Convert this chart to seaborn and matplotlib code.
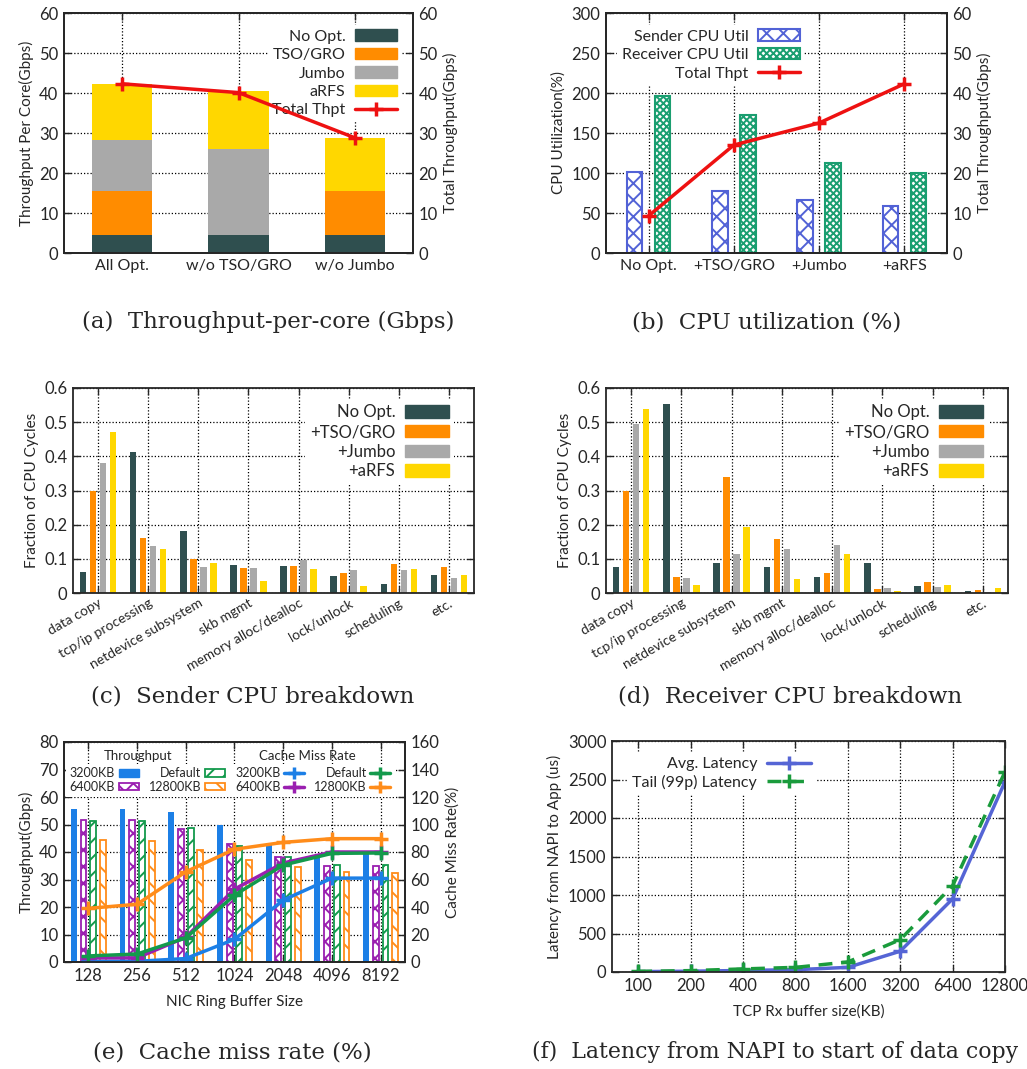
import numpy as np
import pandas as pd
import matplotlib
matplotlib.use("Agg")
import matplotlib.pyplot as plt
import seaborn as sns
from matplotlib.patches import Patch
from matplotlib.lines import Line2D

# ---------------- data ----------------
a_cats = ["All Opt.", "w/o TSO/GRO", "w/o Jumbo"]
a_no_opt = [4.5, 4.5, 4.5]
a_tso_gro = [11.0, 0.0, 11.0]
a_jumbo = [12.8, 21.5, 0.0]
a_arfs = [14.0, 14.6, 13.3]
a_total = [42.3, 40.1, 28.8]

b_cats = ["No Opt.", "+TSO/GRO", "+Jumbo", "+aRFS"]
b_sender = [101, 78, 66, 59]
b_receiver = [196, 173, 113, 100]
b_total = [9.3, 27.0, 32.5, 42.3]

cpu_cats = ["data copy", "tcp/ip processing", "netdevice subsystem", "skb mgmt",
            "memory alloc/dealloc", "lock/unlock", "scheduling", "etc."]
opt_levels = ["No Opt.", "+TSO/GRO", "+Jumbo", "+aRFS"]
c_no_opt = [0.062, 0.412, 0.182, 0.083, 0.080, 0.050, 0.027, 0.052]
c_tso_gro = [0.300, 0.162, 0.100, 0.073, 0.078, 0.060, 0.086, 0.075]
c_jumbo = [0.380, 0.137, 0.077, 0.072, 0.098, 0.068, 0.068, 0.043]
c_arfs = [0.470, 0.130, 0.088, 0.035, 0.070, 0.020, 0.070, 0.053]
d_no_opt = [0.077, 0.553, 0.087, 0.077, 0.048, 0.089, 0.020, 0.006]
d_tso_gro = [0.300, 0.048, 0.340, 0.158, 0.058, 0.013, 0.032, 0.009]
d_jumbo = [0.495, 0.045, 0.115, 0.128, 0.140, 0.016, 0.017, 0.003]
d_arfs = [0.540, 0.022, 0.193, 0.040, 0.114, 0.006, 0.022, 0.015]

e_cats = ["128", "256", "512", "1024", "2048", "4096", "8192"]
e_series = ["3200KB", "6400KB", "Default", "12800KB"]
e_thpt_3200 = [55.5, 55.5, 54.5, 50.0, 42.5, 38.5, 39.5]
e_thpt_6400 = [51.7, 51.7, 48.2, 42.8, 38.2, 35.0, 35.0]
e_thpt_default = [51.2, 51.2, 48.8, 42.3, 38.3, 35.3, 35.3]
e_thpt_12800 = [44.3, 44.1, 40.9, 37.1, 34.6, 32.6, 32.3]
e_miss_3200 = [0.5, 0.5, 2.5, 16.5, 45.0, 61.0, 61.0]
e_miss_6400 = [3.0, 3.0, 18.0, 53.0, 72.0, 80.0, 80.0]
e_miss_default = [4.4, 5.8, 17.5, 48.6, 70.5, 79.0, 79.3]
e_miss_12800 = [39.0, 42.0, 65.6, 82.0, 87.0, 89.7, 89.7]

f_cats = ["100", "200", "400", "800", "1600", "3200", "6400", "12800"]
f_avg = [5, 10, 20, 30, 60, 270, 950, 2470]
f_tail = [8, 18, 40, 60, 130, 420, 1120, 2600]

# ---------------- style ----------------
sns.set_style("ticks")
plt.rcParams["font.family"] = ["Lato", "DejaVu Sans"]
plt.rcParams["hatch.linewidth"] = 1.4
plt.rcParams["axes.linewidth"] = 1.3

C_NO = "#2f4f4f"
C_TSO = "#ff8c00"
C_JUM = "#a9a9a9"
C_ARFS = "#ffd700"
C_RED = "#ee1111"
C_SND = "#5262d6"
C_RCV = "#1a9e70"
E_BLUE = "#1c7fe6"
E_PURP = "#9a1fb0"
E_GREEN = "#139a4c"
E_ORNG = "#ff8c1a"
F_BLUE = "#5565d5"
F_GREEN = "#1a9b3c"

W, H = 1027, 1069
fig = plt.figure(figsize=(W / 100, H / 100), dpi=100)


def add_ax(l, r, t, b):
    return fig.add_axes([l / W, 1 - b / H, (r - l) / W, (b - t) / H])


def style(ax, right=True, top=True, labelsize=12):
    ax.tick_params(direction="in", length=5, width=1, top=top, right=right,
                   labelsize=labelsize, pad=4)
    ax.grid(True, linestyle=(0, (1, 1.6)), color="black", linewidth=0.9)
    ax.set_axisbelow(True)
    for s in ax.spines.values():
        s.set_visible(True)
        s.set_linewidth(1.3)


def style_twin(ax2):
    ax2.tick_params(direction="in", length=5, width=1, labelsize=12, pad=4)
    for s in ax2.spines.values():
        s.set_visible(True)
        s.set_linewidth(1.3)


MS = 10


def line(ax, xs, ys, col, ms=MS, **kw):
    sns.lineplot(x=xs, y=ys, color=col, linewidth=2.5, marker="+", markersize=ms,
                 markeredgewidth=2.5, markeredgecolor=col, markerfacecolor=col, ax=ax, **kw)


LEG = dict(frameon=True, facecolor="white", edgecolor="none", framealpha=1,
           fancybox=False, markerfirst=False, borderpad=0.3)

# ---------------- (a) ----------------
ax = add_ax(64, 413, 13, 253)
cum = np.cumsum(np.array([a_no_opt, a_tso_gro, a_jumbo, a_arfs]), axis=0)
for layer, col in zip([3, 2, 1, 0], [C_ARFS, C_JUM, C_TSO, C_NO]):
    sns.barplot(x=a_cats, y=cum[layer], color=col, saturation=1, width=0.52,
                linewidth=0, errorbar=None, ax=ax)
ax.set_ylim(0, 60)
ax.set_yticks(range(0, 61, 10))
ax.set_ylabel("Throughput Per Core(Gbps)", fontsize=11)
style(ax, right=False)
ax2 = ax.twinx()
line(ax2, np.arange(len(a_cats)), a_total, C_RED)
ax2.set_ylim(0, 60)
ax2.set_yticks(range(0, 61, 10))
ax2.set_ylabel("Total Throughput(Gbps)", fontsize=11)
style_twin(ax2)
ax.set_xlim(-0.5, 2.5)
ax.tick_params(axis="x", labelsize=11.5)
ha = [Patch(color=C_NO), Patch(color=C_TSO), Patch(color=C_JUM), Patch(color=C_ARFS),
      Line2D([], [], color=C_RED, lw=2.5, marker="+", ms=MS, mew=2.5)]
ax.legend(ha, ["No Opt.", "TSO/GRO", "Jumbo", "aRFS", "Total Thpt"], loc="upper right",
          bbox_to_anchor=(0.99, 0.985), fontsize=11.5, handlelength=2.6,
          handleheight=0.75, labelspacing=0.25, handletextpad=0.6, **LEG).set_zorder(0.9)

# ---------------- (b) ----------------
ax = add_ax(606, 947, 13, 253)
dfb = pd.DataFrame({"cat": b_cats * 2,
                    "series": ["Sender CPU Util"] * 4 + ["Receiver CPU Util"] * 4,
                    "val": b_sender + b_receiver})
sns.barplot(data=dfb, x="cat", y="val", hue="series", palette=[C_SND, C_RCV],
            width=0.66, gap=0.45, saturation=1, errorbar=None, legend=False, ax=ax)
for cont, col, hat in zip(ax.containers, [C_SND, C_RCV], ["xx", "xxxxx"]):
    for bar in cont:
        bar.set_facecolor("white")
        bar.set_edgecolor(col)
        bar.set_hatch(hat)
        bar.set_linewidth(1.5)
ax.set_ylim(0, 300)
ax.set_yticks(range(0, 301, 50))
ax.set_ylabel("CPU Utilization(%)", fontsize=11)
ax.set_xlabel("")
style(ax, right=False)
ax2 = ax.twinx()
line(ax2, np.arange(len(b_cats)), b_total, C_RED)
ax2.set_ylim(0, 60)
ax2.set_yticks(range(0, 61, 10))
ax2.set_ylabel("Total Throughput(Gbps)", fontsize=11)
style_twin(ax2)
ax.set_xlim(-0.5, 3.5)
ax.tick_params(axis="x", labelsize=11.5)
hb = [Patch(facecolor="white", edgecolor=C_SND, hatch="xx", lw=1.5),
      Patch(facecolor="white", edgecolor=C_RCV, hatch="xxxxx", lw=1.5),
      Line2D([], [], color=C_RED, lw=2.5, marker="+", ms=MS, mew=2.5)]
ax.legend(hb, ["Sender CPU Util", "Receiver CPU Util", "Total Thpt"], loc="upper right",
          bbox_to_anchor=(0.605, 0.985), fontsize=11.5, handlelength=2.6,
          handleheight=0.75, labelspacing=0.25, handletextpad=0.6, **LEG).set_zorder(0.9)

# ---------------- (c) & (d) ----------------
def cpu_panel(l, r, vals):
    ax = add_ax(l, r, 388, 593)
    df = pd.DataFrame({"cat": cpu_cats * 4,
                       "opt": [o for o in opt_levels for _ in cpu_cats],
                       "val": sum(vals, [])})
    sns.barplot(data=df, x="cat", y="val", hue="opt", palette=[C_NO, C_TSO, C_JUM, C_ARFS],
                width=0.8, gap=0.35, saturation=1, linewidth=0, errorbar=None,
                legend=False, ax=ax)
    ax.set_ylim(0, 0.6)
    ax.set_yticks(np.arange(0, 0.61, 0.1))
    ax.set_yticklabels(["0", "0.1", "0.2", "0.3", "0.4", "0.5", "0.6"])
    ax.set_ylabel("Fraction of CPU Cycles", fontsize=11)
    ax.set_xlabel("")
    style(ax)
    ax.set_xlim(-0.5, 7.5)
    ax.tick_params(axis="x", labelsize=10, pad=3)
    for t in ax.get_xticklabels():
        t.set_rotation(30)
        t.set_ha("right")
        t.set_rotation_mode("anchor")
    hc = [Patch(color=c) for c in [C_NO, C_TSO, C_JUM, C_ARFS]]
    ax.legend(hc, opt_levels, loc="upper right", bbox_to_anchor=(0.97, 0.985),
              fontsize=12, handlelength=2.6, handleheight=0.75, labelspacing=0.22,
              handletextpad=0.6, **LEG).set_zorder(0.9)


cpu_panel(73, 474, [c_no_opt, c_tso_gro, c_jumbo, c_arfs])
cpu_panel(606, 1008, [d_no_opt, d_tso_gro, d_jumbo, d_arfs])

# ---------------- (e) ----------------
ax = add_ax(64, 405, 742, 962)
dfe = pd.DataFrame({"cat": e_cats * 4,
                    "series": [s for s in e_series for _ in e_cats],
                    "val": e_thpt_3200 + e_thpt_6400 + e_thpt_default + e_thpt_12800})
sns.barplot(data=dfe, x="cat", y="val", hue="series",
            palette=[E_BLUE, E_PURP, E_GREEN, E_ORNG], width=0.8, gap=0.4,
            saturation=1, linewidth=0, errorbar=None, legend=False, ax=ax)
for cont, col, hat in zip(ax.containers[1:], [E_PURP, E_GREEN, E_ORNG], ["xx", "//", "\\\\"]):
    for bar in cont:
        bar.set_facecolor("white")
        bar.set_edgecolor(col)
        bar.set_hatch(hat)
        bar.set_linewidth(1.3)
ax.set_ylim(0, 80)
ax.set_yticks(range(0, 81, 10))
ax.set_ylabel("Throughput(Gbps)", fontsize=11)
ax.set_xlabel("NIC Ring Buffer Size", fontsize=11, labelpad=8)
style(ax, right=False)
ax2 = ax.twinx()
xs = np.arange(len(e_cats))
for ys, col in zip([e_miss_3200, e_miss_6400, e_miss_default, e_miss_12800],
                   [E_BLUE, E_PURP, E_GREEN, E_ORNG]):
    line(ax2, xs, ys, col)
ax2.set_ylim(0, 160)
ax2.set_yticks(range(0, 161, 20))
ax2.set_ylabel("Cache Miss Rate(%)", fontsize=11)
style_twin(ax2)
ax.set_xlim(-0.5, 6.5)
ax.tick_params(axis="x", labelsize=12)
he = [Patch(color=E_BLUE),
      Patch(facecolor="white", edgecolor=E_PURP, hatch="xx", lw=1.3),
      Patch(facecolor="white", edgecolor=E_GREEN, hatch="//", lw=1.3),
      Patch(facecolor="white", edgecolor=E_ORNG, hatch="\\\\", lw=1.3),
      Line2D([], [], color=E_BLUE, lw=2.5, marker="+", ms=9, mew=2.5),
      Line2D([], [], color=E_PURP, lw=2.5, marker="+", ms=9, mew=2.5),
      Line2D([], [], color=E_GREEN, lw=2.5, marker="+", ms=9, mew=2.5),
      Line2D([], [], color=E_ORNG, lw=2.5, marker="+", ms=9, mew=2.5)]
ax.legend(he, ["3200KB", "6400KB", "Default", "12800KB",
               "3200KB", "6400KB", "Default", "12800KB"],
          ncol=4, loc="upper center", bbox_to_anchor=(0.487, 0.93), fontsize=9,
          handlelength=1.6, handleheight=0.6, labelspacing=0.12, handletextpad=0.3,
          columnspacing=0.8, **LEG).set_zorder(0.9)
ax.text(0.217, 0.936, "Throughput", transform=ax.transAxes, ha="center", va="center",
        fontsize=9.5, zorder=6)
ax.text(0.713, 0.936, "Cache Miss Rate", transform=ax.transAxes, ha="center", va="center",
        fontsize=9.5, zorder=6)

# ---------------- (f) ----------------
ax = add_ax(612, 1005, 741, 972)
xf = np.arange(len(f_cats))
line(ax, xf, f_avg, F_BLUE)
line(ax, xf, f_tail, F_GREEN, linestyle=(0, (4, 2.5)))
ax.set_xticks(xf)
ax.set_xticklabels(f_cats)
ax.set_xlim(-0.5, 7)
ax.set_ylim(0, 3000)
ax.set_yticks(range(0, 3001, 500))
ax.set_ylabel("Latency from NAPI to App (us)", fontsize=11)
ax.set_xlabel("TCP Rx buffer size(KB)", fontsize=11, labelpad=8)
style(ax)
hf = [Line2D([], [], color=F_BLUE, lw=2.5, marker="+", ms=MS, mew=2.5),
      Line2D([], [], color=F_GREEN, lw=2.5, ls=(0, (4, 2.5)), marker="+", ms=MS, mew=2.5)]
ax.legend(hf, ["Avg. Latency", "Tail (99p) Latency"], loc="upper right",
          bbox_to_anchor=(0.54, 0.985), fontsize=11.5, handlelength=2.8,
          labelspacing=0.2, handletextpad=0.6, **LEG).set_zorder(0.9)

# ---------------- captions ----------------
cap = dict(family="DejaVu Serif", va="center")
fig.text(268 / W, 1 - 322 / H, "(a)  Throughput-per-core (Gbps)", ha="center", fontsize=16.5, **cap)
fig.text(767 / W, 1 - 322 / H, "(b)  CPU utilization (%)", ha="center", fontsize=16.5, **cap)
fig.text(253 / W, 1 - 697 / H, "(c)  Sender CPU breakdown", ha="center", fontsize=16.5, **cap)
fig.text(790 / W, 1 - 697 / H, "(d)  Receiver CPU breakdown", ha="center", fontsize=16.5, **cap)
fig.text(232 / W, 1 - 1052 / H, "(e)  Cache miss rate (%)", ha="center", fontsize=16.5, **cap)
fig.text(532 / W, 1 - 1052 / H, "(f)  Latency from NAPI to start of data copy", ha="left",
         fontsize=15.8, **cap)

fig.savefig("out.png", dpi=100, facecolor="white")
